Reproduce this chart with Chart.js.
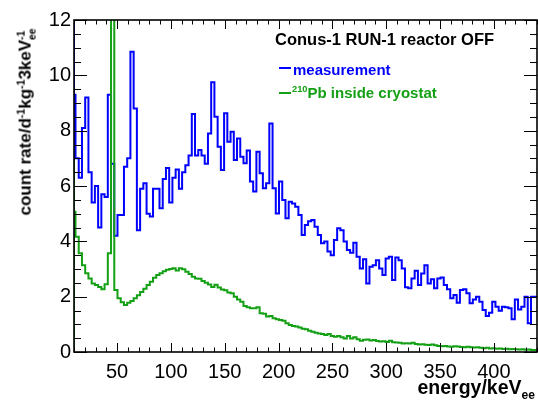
<!DOCTYPE html>
<html>
<head>
<meta charset="utf-8">
<script src="https://cdn.jsdelivr.net/npm/chart.js@4.4.0/dist/chart.umd.min.js"></script>
<style>
  body { margin: 0; background: #fff; }
  #wrap { position: relative; width: 538px; height: 404px; font-family: "Liberation Sans", Arial, sans-serif; }
  canvas { position: absolute; left: 0; top: 0; }
  .lbl { position: absolute; white-space: nowrap; font-weight: bold; line-height: 1; }
  sup, sub { font-size: 0.62em; position: relative; vertical-align: baseline; line-height: 0; }
  sup { top: -0.6em; }
  sub { top: 0.45em; }
  .ss { display: inline-block; font-size: 0.6em; line-height: 1; vertical-align: -0.45em; }
  .ss span { display: block; }
  .dash { position: absolute; height: 2px; width: 12px; }
</style>
</head>
<body>
<div id="wrap">
  <canvas id="chart" width="538" height="404"></canvas>
  <div class="lbl" style="left:275px; top:31px; font-size:16.5px;">Conus-1 RUN-1 reactor OFF</div>
  <div class="dash" style="left:279px; top:67px; background:#0000ff;"></div>
  <div class="lbl" style="left:293px; top:62px; font-size:15px; color:#0000ff;">measurement</div>
  <div class="dash" style="left:279px; top:92px; background:#14a014;"></div>
  <div class="lbl" style="left:292px; top:85px; font-size:15px; color:#14a014;"><sup>210</sup>Pb inside cryostat</div>
  <div class="lbl" style="right:3px; top:378px; font-size:19.5px;">energy/keV<sub>ee</sub></div>
  <div class="lbl" style="left:27px; top:122px; font-size:17px; transform: translate(-50%,-50%) rotate(-90deg);">count rate/d<sup>-1</sup>kg<sup>-1</sup>3keV<span class="ss"><span>-1</span><span>ee</span></span></div>
</div>
<script>
// histogram binning (keV)
const binStart = 8.4;
const binWidth = 3;

// counts per bin
const measurement = [
  14, 9.3, 7.0, 6.3, 8.1, 9.2, 6.5, 5.4, 6.0, 4.5, 5.7, 5.6, 9.3, 6.8, 4.2, 4.95, 4.95, 6.7, 7.0, 10.85,
  8.8, 4.4, 5.9, 6.1, 5.0, 4.9, 5.9, 5.9, 5.2, 6.25, 6.65, 5.4, 6.3, 6.6, 5.9, 6.5, 6.75, 7.1, 8.6, 7.1,
  7.3, 7.1, 6.8, 7.9, 9.75, 8.5, 7.42, 6.58, 8.63, 7.6, 7.96, 6.94, 7.72, 7.06, 6.82, 7.28, 6.16, 5.8, 7.24, 6.46,
  5.92, 6.1, 8.26, 5.92, 5.01, 6.16, 5.49, 4.83, 5.43, 5.37, 5.25, 4.95, 4.23, 4.59, 4.73, 4.77, 4.53, 4.23, 3.93, 3.99,
  3.63, 3.5, 4.05, 4.47, 4.4, 3.99, 3.69, 3.59, 3.95, 3.44, 3.02, 3.35, 2.48, 3.08, 3.14, 3.32, 3.02, 2.78, 3.38, 3.44,
  2.6, 3.42, 3.32, 3.02, 2.34, 2.3, 2.66, 2.94, 2.42, 2.84, 3.14, 2.48, 2.63, 2.3, 2.66, 2.69, 2.42, 2.27, 1.94, 2.06,
  1.78, 2.24, 2.27, 2.12, 1.76, 1.9, 2.0, 1.82, 1.52, 1.3, 1.42, 1.82, 1.64, 1.49, 1.64, 1.62, 1.58, 1.18, 1.9, 1.54,
  1.64, 2.0, 1.04, 2.0
];

const pb210 = [
  6.94, 5.07, 4.17, 3.57, 3.14, 2.85, 2.66, 2.48, 2.42, 2.35, 2.27, 2.45, 3.57, 30, 2.24, 1.94, 1.8, 1.7, 1.78, 1.84,
  1.94, 2.05, 2.17, 2.29, 2.42, 2.54, 2.68, 2.78, 2.85, 2.92, 2.97, 3.0, 3.03, 2.95, 3.03, 2.99, 2.9, 2.82, 2.72, 2.66,
  2.65, 2.57, 2.5, 2.44, 2.35, 2.43, 2.33, 2.26, 2.23, 2.15, 2.12, 2.0, 1.9, 1.82, 1.66, 1.62, 1.58, 1.58, 1.62, 1.4,
  1.38, 1.28, 1.3, 1.22, 1.18, 1.16, 1.13, 1.04, 0.98, 0.94, 0.92, 0.89, 0.84, 0.82, 0.77, 0.73, 0.7, 0.67, 0.65, 0.61,
  0.65, 0.58, 0.55, 0.58, 0.53, 0.49, 0.58, 0.49, 0.53, 0.46, 0.41, 0.44, 0.45, 0.42, 0.43, 0.40, 0.38, 0.39, 0.36, 0.41,
  0.35, 0.34, 0.33, 0.31, 0.32, 0.31, 0.33, 0.29, 0.27, 0.28, 0.26, 0.25, 0.27, 0.24, 0.22, 0.21, 0.22, 0.2, 0.19, 0.21,
  0.2, 0.18, 0.17, 0.19, 0.17, 0.16, 0.17, 0.15, 0.14, 0.15, 0.13, 0.14, 0.12, 0.13, 0.11, 0.12, 0.1, 0.11, 0.1, 0.09,
  0.1, 0.08, 0.09, 0.07
];

const xTickValues = [50, 100, 150, 200, 250, 300, 350, 400];
const yTickValues = [0, 2, 4, 6, 8, 10, 12];
const xMin = 10, xMax = 440, yMin = 0, yMax = 12;

// turn bin contents into points for a stepped line (left edge starts at 0)
function toSteps(values) {
  const pts = [{x: xMin, y: 0}];
  values.forEach((v, i) => {
    pts.push({x: Math.max(binStart + i * binWidth, xMin), y: v});
  });
  pts.push({x: binStart + values.length * binWidth, y: values[values.length - 1]});
  return pts;
}

// ROOT style frame with ticks pointing inwards
const rootFrame = {
  id: 'rootFrame',
  afterDraw(chart) {
    const {ctx, chartArea: a, scales: {x, y}} = chart;
    ctx.save();
    ctx.strokeStyle = '#000';
    ctx.lineWidth = 1;
    ctx.beginPath();
    for (let v = xMin; v <= xMax; v += 10) {
      const px = Math.round(x.getPixelForValue(v)) + 0.5;
      const len = v % 50 === 0 ? 9 : 4.5;
      ctx.moveTo(px, a.bottom); ctx.lineTo(px, a.bottom - len);
      ctx.moveTo(px, a.top); ctx.lineTo(px, a.top + len);
    }
    for (let k = 0; k <= 24; k++) {
      const v = k * 0.5;
      const py = Math.round(y.getPixelForValue(v)) + 0.5;
      const len = k % 4 === 0 ? 13 : 7;
      ctx.moveTo(a.left, py); ctx.lineTo(a.left + len, py);
      ctx.moveTo(a.right, py); ctx.lineTo(a.right - len, py);
    }
    ctx.stroke();
    ctx.lineWidth = 1.6;
    ctx.strokeRect(a.left, a.top, a.right - a.left, a.bottom - a.top);
    ctx.restore();
  }
};

const tickFont = {family: 'Liberation Sans', size: 20};

new Chart(document.getElementById('chart'), {
  type: 'line',
  data: {
    datasets: [
      {
        label: 'measurement',
        data: toSteps(measurement),
        borderColor: '#0000ff',
        borderWidth: 2,
        stepped: 'after',
        pointRadius: 0,
        fill: false,
        order: 2
      },
      {
        label: '210Pb inside cryostat',
        data: toSteps(pb210),
        borderColor: '#14a014',
        borderWidth: 2,
        stepped: 'after',
        pointRadius: 0,
        fill: false,
        order: 1
      }
    ]
  },
  options: {
    responsive: false,
    animation: false,
    devicePixelRatio: 1,
    layout: {padding: {top: 20, right: 1, left: 0, bottom: 0}},
    plugins: {
      legend: {display: false},
      tooltip: {enabled: false},
      title: {display: false}
    },
    scales: {
      x: {
        type: 'linear',
        min: xMin,
        max: xMax,
        grid: {display: false, drawTicks: false},
        border: {display: false},
        afterBuildTicks: s => { s.ticks = xTickValues.map(v => ({value: v})); },
        afterFit: s => { s.height = 52; },
        ticks: {font: tickFont, color: '#000', padding: 8, maxRotation: 0, autoSkip: false}
      },
      y: {
        min: yMin,
        max: yMax,
        grid: {display: false, drawTicks: false},
        border: {display: false},
        afterBuildTicks: s => { s.ticks = yTickValues.map(v => ({value: v})); },
        afterFit: s => { s.width = 74; },
        ticks: {font: tickFont, color: '#000', padding: 3, autoSkip: false}
      }
    }
  },
  plugins: [rootFrame]
});
</script>
</body>
</html>
